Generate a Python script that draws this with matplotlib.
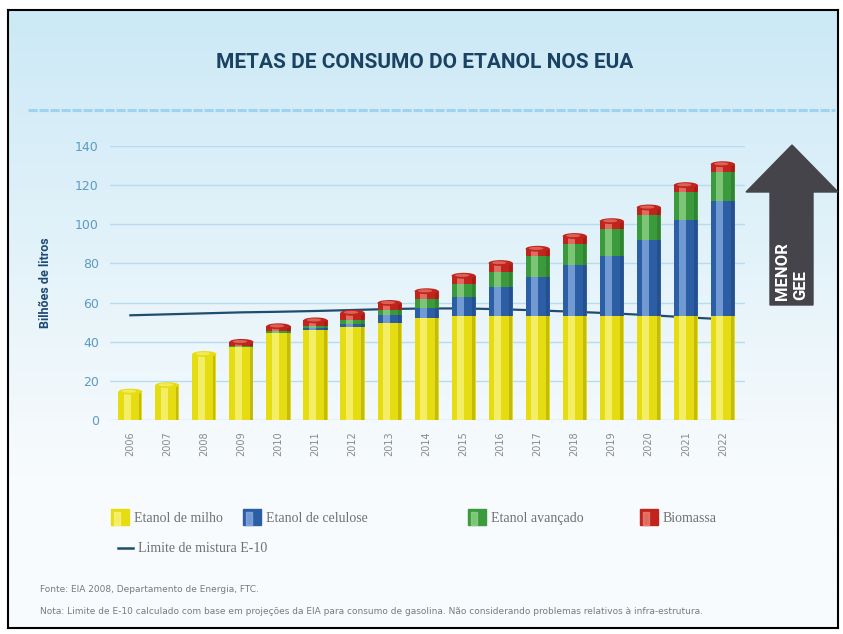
import numpy as np
import matplotlib
matplotlib.use("Agg")
import matplotlib.pyplot as plt
from matplotlib.patches import Rectangle, Ellipse, Polygon
from matplotlib.lines import Line2D

W, H = 843, 634

anos = [str(a) for a in range(2006, 2023)]
milho = [14.5, 17.8, 33.7, 37.5, 44.2, 45.9, 47.6, 49.4, 51.9, 53.0, 53.0, 53.0, 53.0, 53.0, 53.0, 53.0, 53.0]
celulose = [0, 0, 0, 0, 0.4, 0.9, 1.5, 4.2, 5.1, 10.0, 15.0, 20.0, 26.0, 31.0, 38.8, 49.0, 59.0]
avancado = [0, 0, 0, 0.4, 0.8, 1.1, 1.9, 2.4, 5.0, 6.7, 7.7, 11.0, 11.0, 13.8, 12.8, 14.5, 14.7]
biomassa = [0, 0, 0, 2.0, 2.5, 3.0, 3.8, 3.8, 3.8, 4.0, 4.5, 3.5, 4.0, 3.8, 4.0, 3.5, 4.0]
limite_e10 = [53.5, 54.0, 54.5, 55.0, 55.3, 55.7, 56.2, 56.7, 57.0, 57.0, 56.6, 56.0, 55.3, 54.5, 53.6, 52.5, 51.5]

series = [milho, celulose, avancado, biomassa]
nomes = ["Etanol de milho", "Etanol de celulose", "Etanol avançado", "Biomassa"]
cores = ["#e6dc12", "#2c5ea6", "#3b9a3c", "#c0241c"]
claras = ["#fbf68a", "#8fb3e6", "#98d88f", "#ee8a7e"]

condensed = ["Liberation Sans Narrow", "Roboto", "DejaVu Sans"]


def fx(px):
    return px / W


def fy(py):
    return 1 - py / H


fig = plt.figure(figsize=(W / 100, H / 100), dpi=100)
fig.patch.set_facecolor("white")

# background panel with gradient and border
bg = fig.add_axes([fx(8), fy(628), fx(838) - fx(8), fy(10) - fy(628)])
grad = np.linspace(0, 1, 256)[:, None]
top = np.array([204, 233, 246]) / 255
bot = np.array([248, 251, 253]) / 255
t = np.clip(grad / 0.75, 0, 1)
img = top[None, None, :] * (1 - t[..., None]) + bot[None, None, :] * t[..., None]
img = np.repeat(img, 2, axis=1)
bg.imshow(img, extent=[0, 1, 0, 1], aspect="auto", zorder=0)
bg.set_xticks([])
bg.set_yticks([])
for s in bg.spines.values():
    s.set_color("black")
    s.set_linewidth(1.5)

# title and dashed separator
fig.text(fx(425), fy(62), "METAS DE CONSUMO DO ETANOL NOS EUA",
         family=condensed, weight="bold",
         fontsize=15, color="#1a4263", ha="center", va="center")
fig.add_artist(Line2D([fx(28), fx(835)], [fy(110), fy(110)], color="#9dd3ee",
                      lw=2.2, linestyle=(0, (3, 0.6))))

# main axes
ax = fig.add_axes([fx(110), fy(420), fx(745) - fx(110), fy(146) - fy(420)])
ax.patch.set_alpha(0)
x = np.arange(len(anos))
ax.set_xlim(-0.55, 16.6)
ax.set_ylim(0, 140)
ax.set_yticks(range(0, 141, 20))
ax.grid(axis="y", color="#b7dcef", lw=1)
ax.set_axisbelow(True)
for s in ax.spines.values():
    s.set_visible(False)
ax.tick_params(length=0)
ax.tick_params(axis="y", colors="#5b9bc4", labelsize=9, pad=8)
ax.set_xticks(x)
ax.set_xticklabels(anos, rotation=90, fontsize=7, color="#8a8a8a")
ax.tick_params(axis="x", pad=8)
ax.set_ylabel("Bilhões de litros", fontsize=9, weight="bold", color="#1d4a75",
              family=condensed)
ax.yaxis.set_label_coords((fx(52) - fx(110)) / (fx(745) - fx(110)), 0.5)

ax.plot(x, limite_e10, color="#1f4d6e", lw=1.6, zorder=2)

bw = 0.65
bottom = np.zeros(len(anos))
for vals, c, cl in zip(series, cores, claras):
    vals = np.array(vals)
    ax.bar(x, vals, bw, bottom=bottom, color=c, zorder=3, lw=0)
    ax.bar(x - 0.08, vals, bw * 0.28, bottom=bottom, color=cl, alpha=0.7, zorder=4, lw=0)
    ax.bar(x + 0.26, vals, bw * 0.12, bottom=bottom, color="black", alpha=0.15, zorder=4, lw=0)
    bottom = bottom + vals

# cylinder caps
for i in range(len(anos)):
    last = max(k for k in range(4) if series[k][i] > 0)
    ax.add_patch(Ellipse((x[i], bottom[i]), bw, 3.0, color=cores[last], zorder=5, lw=0))
    ax.add_patch(Ellipse((x[i] - 0.04, bottom[i] + 0.2), bw * 0.6, 1.6,
                         color=claras[last], alpha=0.6, zorder=6, lw=0))

# arrow "MENOR GEE"
arrow = Polygon([(fx(792), fy(145)), (fx(838), fy(192)), (fx(813), fy(192)),
                 (fx(813), fy(305)), (fx(770), fy(305)), (fx(770), fy(192)),
                 (fx(746), fy(192))], closed=True, transform=fig.transFigure,
                color="#44444a", zorder=5)
fig.add_artist(arrow)
fig.text(fx(782), fy(300), "MENOR", rotation=90, color="white", weight="bold",
         family=condensed, fontsize=12, ha="center", va="bottom", zorder=7)
fig.text(fx(801), fy(300), "GEE", rotation=90, color="white", weight="bold",
         family=condensed, fontsize=12, ha="center", va="bottom", zorder=7)

# legend
leg_x = [111, 243, 468, 640]
serif = ["Liberation Serif", "DejaVu Serif"]
for nome, c, cl, lx in zip(nomes, cores, claras, leg_x):
    fig.add_artist(Rectangle((fx(lx), fy(525)), fx(18), fy(509) - fy(525),
                             transform=fig.transFigure, color=c))
    fig.add_artist(Rectangle((fx(lx + 3), fy(525)), fx(6), fy(512) - fy(525),
                             transform=fig.transFigure, color=cl, alpha=0.7))
    fig.text(fx(lx + 23), fy(522), nome, fontsize=10, color="#707070",
             family=serif, va="baseline")
fig.add_artist(Line2D([fx(118), fx(133)], [fy(548), fy(548)], color="#1f4d6e", lw=1.8))
fig.text(fx(138), fy(552), "Limite de mistura E-10", fontsize=10, color="#707070",
         family=serif, va="baseline")

# footnotes
fig.text(fx(40), fy(590), "Fonte: EIA 2008, Departamento de Energia, FTC.",
         fontsize=6.5, color="#7a7a7a", va="center")
fig.text(fx(40), fy(612), "Nota: Limite de E-10 calculado com base em projeções da EIA para "
         "consumo de gasolina. Não considerando problemas relativos à infra-estrutura.",
         fontsize=6.5, color="#7a7a7a", va="center")

fig.savefig("out.png", dpi=100)
